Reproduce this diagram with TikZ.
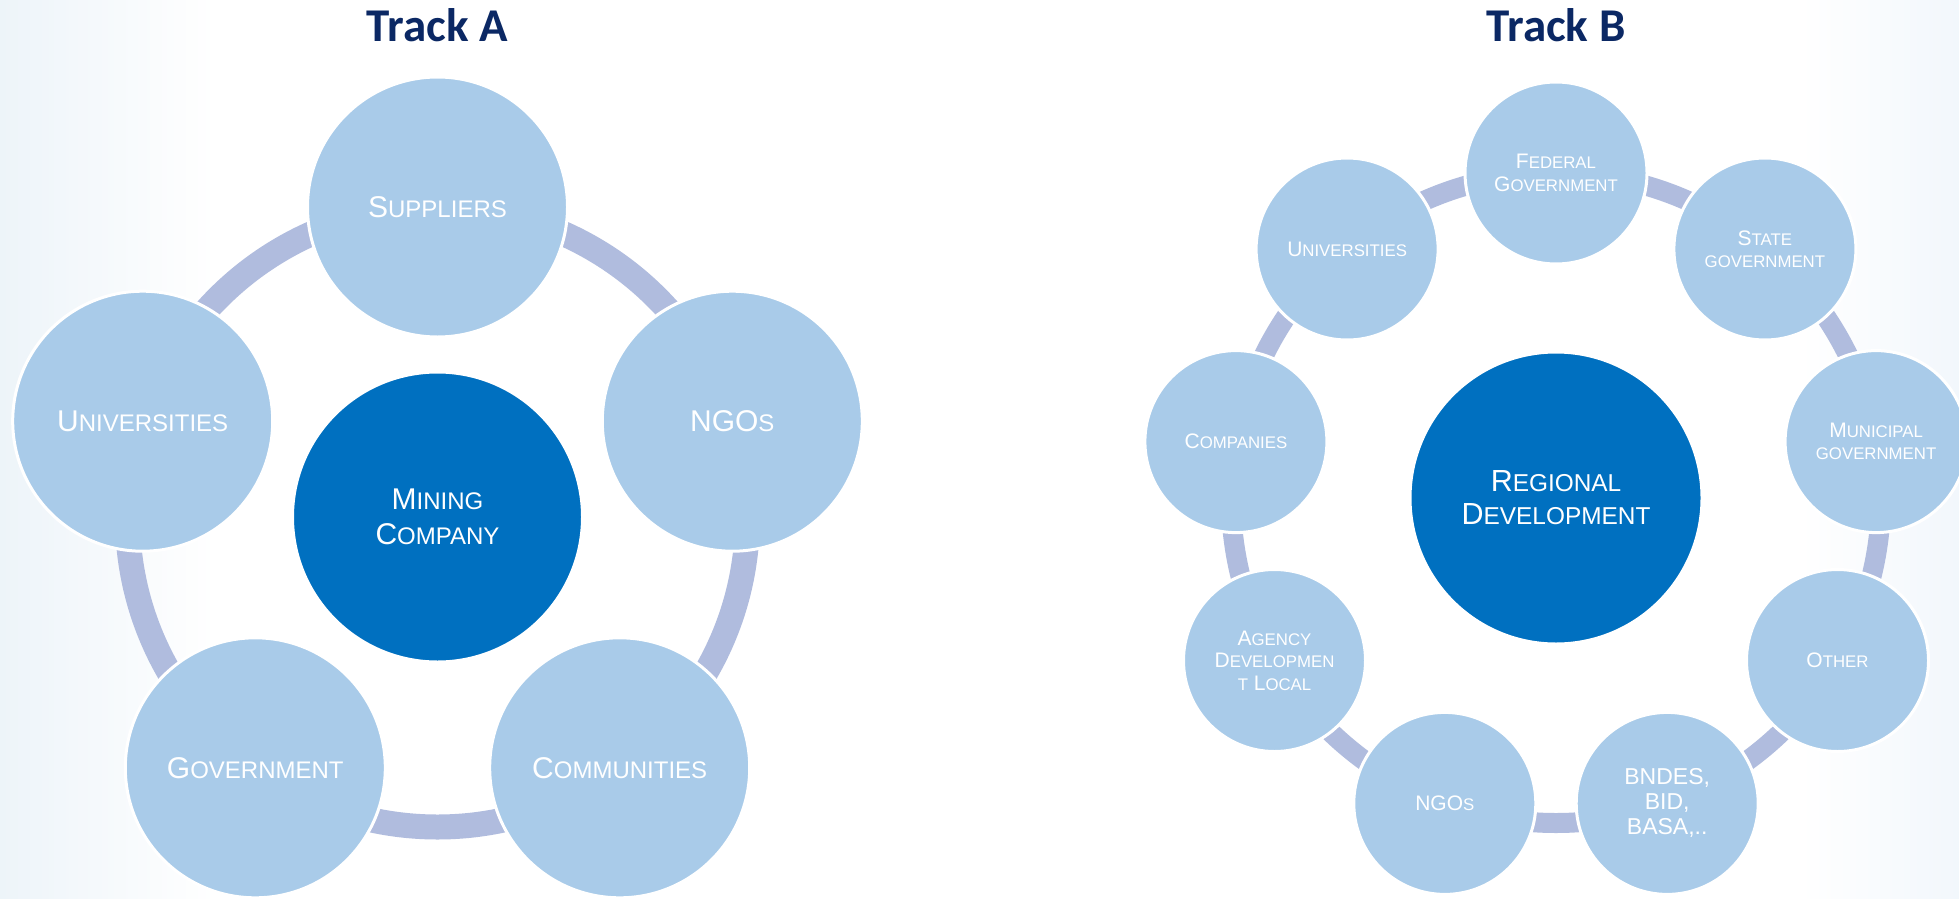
\documentclass[tikz,border=0pt]{standalone}
\usepackage{fontspec}
\setmainfont{Liberation Sans}
\newfontfamily\titlefont{Carlito}
\newdimen\smcdim
\makeatletter
\newcommand\smc[1]{{\smcdim=\f@size pt\relax\smcdim=0.8\smcdim\fontsize{\smcdim}{0pt}\selectfont #1}}
\makeatother
\definecolor{lb}{HTML}{A9CBE9}
\definecolor{db}{HTML}{0070C0}
\definecolor{ringc}{HTML}{B0BCDE}
\definecolor{navy}{HTML}{0B2864}
\definecolor{bgL}{HTML}{EDF4F9}
\definecolor{bgR}{HTML}{F2F7FC}
\tikzset{
  basecirc/.style={circle, draw=white, line width=3pt, inner sep=0pt, text=white, align=center},
  outerA/.style={basecirc, fill=lb, minimum size=260pt, font=\fontsize{30}{35}\selectfont},
  centerA/.style={basecirc, fill=db, minimum size=290pt, font=\fontsize{30}{35}\selectfont},
  outerB/.style={basecirc, fill=lb, minimum size=182pt, font=\fontsize{21}{22.5}\selectfont},
  centerB/.style={basecirc, fill=db, minimum size=292pt, font=\fontsize{30.5}{33}\selectfont},
  ringA/.style={draw=ringc, line width=25pt},
  ringB/.style={draw=ringc, line width=20pt},
  titletext/.style={font=\titlefont\bfseries\fontsize{47}{50}\selectfont, text=navy, anchor=base}
}
\begin{document}
\begin{tikzpicture}[x=1pt,y=-1pt]
\useasboundingbox (0,0) rectangle (1959,899);
\fill[white] (0,0) rectangle (1959,899);
\shade[left color=bgL, right color=white] (0,0) rectangle (215,899);
\shade[left color=white, right color=bgR] (1800,0) rectangle (1959,899);

% Titles
\node[titletext] (tA) at (437.5,42) {Track A};
\node[titletext] (tB) at (1556,42) {Track B};

% ---------- Track A ----------
\coordinate (cA) at (437.5,517);
\draw[ringA] (cA) circle[radius=310pt];
\node[centerA] (mining) at (cA) {M\smc{INING}\\C\smc{OMPANY}};
\node[outerA] (suppliers) at (437.5,207) {S\smc{UPPLIERS}};
\node[outerA] (ngosA) at (732.3,421.2) {NGO\smc{S}};
\node[outerA] (communities) at (619.7,767.8) {C\smc{OMMUNITIES}};
\node[outerA] (government) at (255.3,767.8) {G\smc{OVERNMENT}};
\node[outerA] (univA) at (142.7,421.2) {U\smc{NIVERSITIES}};

% ---------- Track B ----------
\coordinate (cB) at (1556,498);
\draw[ringB] (cB) circle[radius=325pt];
\node[centerB] (regional) at (cB) {R\smc{EGIONAL}\\D\smc{EVELOPMENT}};
\node[outerB] (federal) at (1556,173) {F\smc{EDERAL}\\G\smc{OVERNMENT}};
\node[outerB] (state) at (1764.9,249) {S\smc{TATE}\\\smc{GOVERNMENT}};
\node[outerB] (municipal) at (1876.1,441.6) {M\smc{UNICIPAL}\\\smc{GOVERNMENT}};
\node[outerB] (other) at (1837.5,660.5) {O\smc{THER}};
\node[outerB, font=\fontsize{23}{25}\selectfont] (bndes) at (1667.2,803.4) {BNDES,\\BID,\\BASA,..};
\node[outerB] (ngosB) at (1444.8,803.4) {NGO\smc{S}};
\node[outerB] (agency) at (1274.5,660.5) {A\smc{GENCY}\\D\smc{EVELOPMEN}\\\smc{T} L\smc{OCAL}};
\node[outerB] (companies) at (1235.9,441.6) {C\smc{OMPANIES}};
\node[outerB] (univB) at (1347.1,249) {U\smc{NIVERSITIES}};
\end{tikzpicture}
\end{document}
